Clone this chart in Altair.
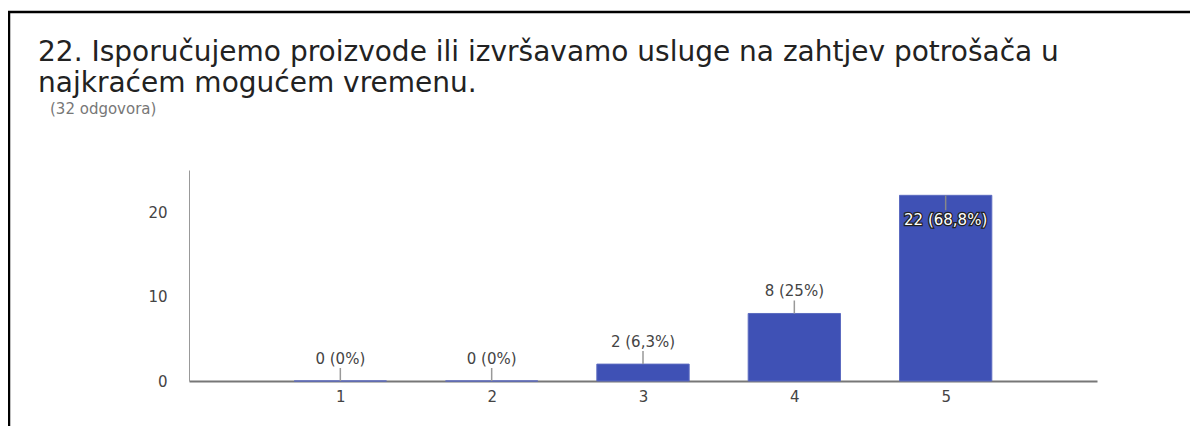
import altair as alt
import pandas as pd

categories = [1, 2, 3, 4, 5]
counts = [0, 0, 2, 8, 22]
labels = ["0 (0%)", "0 (0%)", "2 (6,3%)", "8 (25%)", "22 (68,8%)"]
x_ticks = [1, 2, 3, 4, 5]
y_ticks = [0, 10, 20]
title_lines = [
    "22. Isporučujemo proizvode ili izvršavamo usluge na zahtjev potrošača u",
    "najkraćem mogućem vremenu.",
]
subtitle = "(32 odgovora)"

df = pd.DataFrame({"cat": categories, "count": counts, "label": labels})

LABEL_FONT = "DejaVu Sans"
TITLE_FONT = "DejaVu Sans"
BAR_COLOR = "#3f51b5"

base = alt.Chart(df)
xs = alt.Scale(domain=[0, 6], nice=False)
ys = alt.Scale(domain=[0, 25], nice=False)

bars = base.transform_calculate(
    x0="datum.cat - 0.305", x1="datum.cat + 0.305"
).mark_bar(color=BAR_COLOR, stroke="#5c6bc0", strokeWidth=1).encode(
    x=alt.X("x0:Q", scale=xs, axis=alt.Axis(
        values=x_ticks, format="d", title=None, ticks=False, grid=False, labelPadding=8,
        labelFontSize=15, labelColor="#444", labelFont=LABEL_FONT,
        domainColor="#777", domainWidth=2)),
    x2="x1:Q",
    y=alt.Y("count:Q", scale=ys, axis=alt.Axis(
        values=y_ticks, title=None, ticks=False, grid=False, labelPadding=22,
        labelFontSize=15, labelColor="#444", labelFont=LABEL_FONT,
        domainColor="#999", domainWidth=1)),
    y2=alt.datum(0),
)

above = base.transform_filter("datum.count <= 20")
inside = base.transform_filter("datum.count > 20")

lead_up = above.mark_rule(color="#999", strokeWidth=1.5, y2Offset=-13).encode(
    x=alt.X("cat:Q", scale=xs), y=alt.Y("count:Q", scale=ys), y2="count:Q")
lead_in = inside.mark_rule(color="#888", strokeWidth=1.5, y2Offset=15).encode(
    x=alt.X("cat:Q", scale=xs), y=alt.Y("count:Q", scale=ys), y2="count:Q")

text_up = above.mark_text(font=LABEL_FONT, fontSize=15, color="#444",
                          baseline="middle", dy=-22).encode(
    x=alt.X("cat:Q", scale=xs), y=alt.Y("count:Q", scale=ys), text="label:N")
text_in_halo = inside.mark_text(font=LABEL_FONT, fontSize=15, color="#222",
                                stroke="#222", strokeWidth=2.5,
                                baseline="middle", dy=25).encode(
    x=alt.X("cat:Q", scale=xs), y=alt.Y("count:Q", scale=ys), text="label:N")
text_in = inside.mark_text(font=LABEL_FONT, fontSize=15, color="white",
                           baseline="middle", dy=25).encode(
    x=alt.X("cat:Q", scale=xs), y=alt.Y("count:Q", scale=ys), text="label:N")

one = alt.Data(values=[{"k": 0}])
t1 = alt.Chart(one).mark_text(text=title_lines[0], font=TITLE_FONT, fontSize=28,
                              color="#222", align="left", baseline="alphabetic").encode(
    x=alt.value(-151), y=alt.value(-109))
t2 = alt.Chart(one).mark_text(text=title_lines[1], font=TITLE_FONT, fontSize=28,
                              color="#222", align="left", baseline="alphabetic").encode(
    x=alt.value(-151), y=alt.value(-78))
t3 = alt.Chart(one).mark_text(text=subtitle, font=LABEL_FONT, fontSize=15,
                              color="#777", align="left", baseline="alphabetic").encode(
    x=alt.value(-139), y=alt.value(-56))

frame_top = alt.Chart(one).mark_rule(color="black", strokeWidth=2.5).encode(
    x=alt.value(-181), x2=alt.value(1010), y=alt.value(-158))
frame_left = alt.Chart(one).mark_rule(color="black", strokeWidth=2.5).encode(
    x=alt.value(-180), y=alt.value(-158), y2=alt.value(260))

chart = alt.layer(
    bars, lead_up, lead_in, text_up, text_in_halo, text_in,
    t1, t2, t3, frame_top, frame_left,
).properties(
    width=908, height=211,
    autosize=alt.AutoSizeParams(type="none"),
    padding={"left": 181, "top": 162, "right": 93, "bottom": 45},
).configure_view(strokeWidth=0)

chart.save("out.html", embed_options={"renderer": "svg", "actions": False})
